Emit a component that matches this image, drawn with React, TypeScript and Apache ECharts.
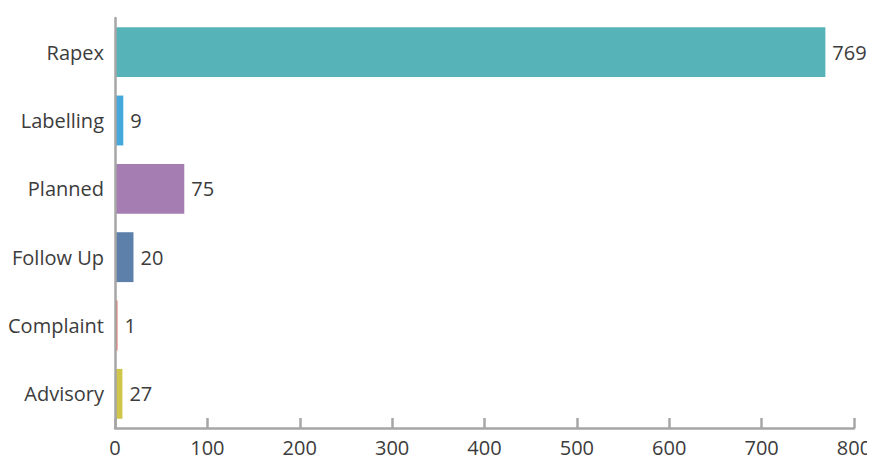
import React, { useEffect, useRef } from "react";
import * as echarts from "echarts";

const categories = ["Rapex", "Labelling", "Planned", "Follow Up", "Complaint", "Advisory"];
// bar lengths as drawn in the reference
const values = [769, 9, 75, 20, 1, 8];
// value labels as printed in the reference
const valueLabels = ["769", "9", "75", "20", "1", "27"];
const colors = ["#56b4b9", "#44a8db", "#a57db3", "#5d80aa", "#ec6a5e", "#cfc64a"];
const xTicks = [0, 100, 200, 300, 400, 500, 600, 700, 800];

export default function App() {
  const ref = useRef<HTMLDivElement>(null);
  useEffect(() => {
    if (!ref.current) return;
    const chart = echarts.init(ref.current, undefined, { renderer: "svg" });
    const font = "'Open Sans', 'Noto Sans', sans-serif";
    const n = categories.length;
    chart.setOption({
      animation: false,
      grid: {
        left: 107,
        right: 21,
        top: 10,
        bottom: 31,
        containLabel: false,
        outerBoundsMode: "none",
      },
      xAxis: {
        type: "value",
        min: xTicks[0],
        max: xTicks[xTicks.length - 1],
        interval: 100,
        z: 5,
        axisLine: { show: true, lineStyle: { color: "#a6a6a6", width: 2.5 } },
        axisTick: { show: true, inside: true, length: 10, lineStyle: { color: "#a6a6a6", width: 2.5 } },
        splitLine: { show: false },
        axisLabel: { color: "#3c3c3c", fontSize: 20, fontFamily: font, margin: 9 },
      },
      yAxis: {
        type: "category",
        data: categories.slice().reverse(),
        z: 5,
        axisLine: { show: true, lineStyle: { color: "#a6a6a6", width: 2.5 } },
        axisTick: { show: false },
        axisLabel: { color: "#3c3c3c", fontSize: 20, fontFamily: font, margin: 11 },
      },
      series: [
        {
          type: "bar",
          data: values
            .map((v, i) => ({ value: v, itemStyle: { color: colors[i] } }))
            .reverse(),
          barCategoryGap: "27%",
          barMinHeight: 2.5,
          label: {
            show: true,
            position: "right",
            distance: 7,
            color: "#3c3c3c",
            fontSize: 20,
            fontFamily: font,
            formatter: (p: any) => valueLabels[n - 1 - p.dataIndex],
          },
        },
      ],
    });
    return () => chart.dispose();
  }, []);
  return <div ref={ref} style={{ width: 867, height: 451 }} />;
}
